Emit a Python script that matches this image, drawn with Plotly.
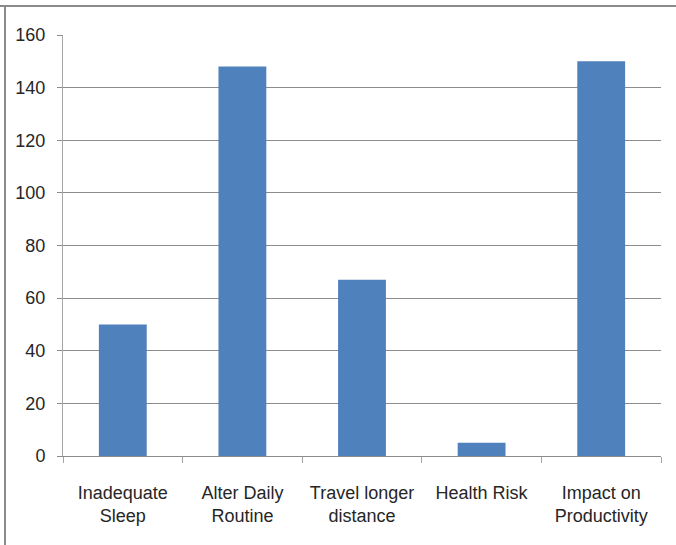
import plotly.graph_objects as go

categories = ["Inadequate<br>Sleep", "Alter Daily<br>Routine", "Travel longer<br>distance",
              "Health Risk", "Impact on<br>Productivity"]
values = [50, 148, 67, 5, 150]
y_ticks = [0, 20, 40, 60, 80, 100, 120, 140, 160]

FONT = "Liberation Sans, Arial, sans-serif"

fig = go.Figure(go.Bar(x=categories, y=values, marker=dict(color="#4F81BD", line=dict(width=0))))

fig.update_layout(
    width=676, height=545,
    margin=dict(l=63, r=15, t=35, b=89),
    paper_bgcolor="white", plot_bgcolor="white",
    bargap=0.6,
    showlegend=False,
    font=dict(family=FONT, size=18, color="#262626"),
)
fig.update_yaxes(
    range=[0, 160], tickvals=y_ticks, showgrid=True, gridcolor="#8c8c8c", gridwidth=1,
    showline=True, linecolor="#a6a6a6", linewidth=1,
    ticks="outside", ticklen=5, tickcolor="#8c8c8c", zeroline=False,
    ticklabelstandoff=8,
    tickfont=dict(family=FONT, size=18, color="#262626"),
)
fig.update_xaxes(
    showline=True, linecolor="#8c8c8c", linewidth=1,
    ticks="outside", tickson="boundaries", ticklen=6, tickcolor="#a6a6a6",
    ticklabelstandoff=20,
    tickfont=dict(family=FONT, size=18, color="#262626"),
)
# outer chart border (top and left edges visible)
fig.add_shape(type="line", xref="paper", yref="paper", x0=-63/598, x1=1 + 15/598,
              y0=1 + 29/421, y1=1 + 29/421, line=dict(color="#8a8a8a", width=2))
fig.add_shape(type="line", xref="paper", yref="paper", x0=-58/598, x1=-58/598,
              y0=1 + 29/421, y1=-89/421, line=dict(color="#8a8a8a", width=2))

fig.write_html("out.html")
